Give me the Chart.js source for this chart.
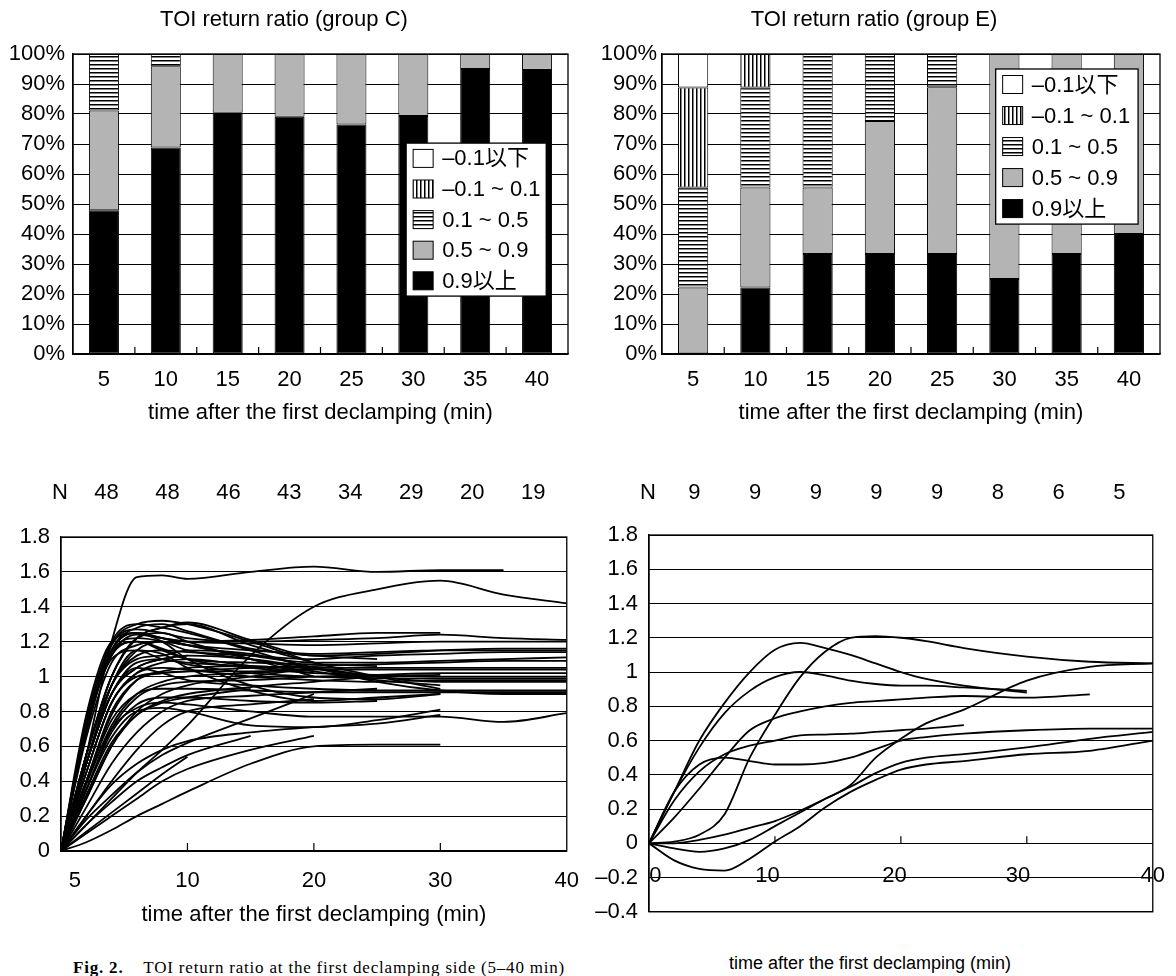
<!DOCTYPE html>
<html>
<head>
<meta charset="utf-8">
<script src="https://cdn.jsdelivr.net/npm/chart.js@4.4.1/dist/chart.umd.min.js"></script>
<style>
  html, body { margin: 0; padding: 0; background: #fff; width: 1176px; height: 976px; overflow: hidden; position: relative; }
  canvas { position: absolute; }
  .xtitle { position: absolute; font-family: 'Liberation Sans', Arial, sans-serif; font-size: 18px; line-height: 22px; white-space: nowrap; color: #000; transform: translateX(-50%); }
  #caption { position: absolute; left: 73px; top: 958px; font-family: 'Liberation Serif', 'Times New Roman', serif; font-size: 17px; line-height: 20px; letter-spacing: 0.8px; white-space: nowrap; color: #000; }
</style>
</head>
<body>
<canvas id="barC" width="588" height="440" style="left:0;top:0"></canvas>
<canvas id="barE" width="588" height="440" style="left:588px;top:0"></canvas>
<canvas id="lineC" width="588" height="480" style="left:0;top:460px"></canvas>
<canvas id="lineE" width="588" height="476" style="left:588px;top:460px"></canvas>
<div class="xtitle" style="left:870px;top:952px">time after the first declamping (min)</div>
<div id="caption"><b>Fig. 2.</b>&nbsp;&nbsp;&nbsp; TOI return ratio at the first declamping side (5–40 min)</div>
<script>
// ---- bar charts: share of patients per TOI class (%) ----
const timeLabels = ['5', '10', '15', '20', '25', '30', '35', '40'];
const classLabels = ['0.9以上', '0.5 ~ 0.9', '0.1 ~ 0.5', '–0.1 ~ 0.1', '–0.1以下'];

const groupC_over09 = [47.9, 68.8, 80.4, 79.1, 76.5, 79.3, 95.0, 94.7];
const groupC_05to09 = [33.3, 27.1, 19.6, 20.9, 23.5, 20.7, 5.0, 5.3];
const groupC_01to05 = [18.8, 4.1, 0, 0, 0, 0, 0, 0];
const groupC_m01to01 = [0, 0, 0, 0, 0, 0, 0, 0];
const groupC_underm01 = [0, 0, 0, 0, 0, 0, 0, 0];

const groupE_over09 = [0, 22.2, 33.3, 33.3, 33.3, 25.0, 33.3, 40.0];
const groupE_05to09 = [22.2, 33.3, 22.2, 44.4, 55.6, 75.0, 66.7, 60.0];
const groupE_01to05 = [33.3, 33.3, 44.5, 22.3, 11.1, 0, 0, 0];
const groupE_m01to01 = [33.3, 11.2, 0, 0, 0, 0, 0, 0];
const groupE_underm01 = [11.2, 0, 0, 0, 0, 0, 0, 0];

// ---- line charts ----
const nCountsC = [48, 48, 46, 43, 34, 29, 20, 19];
const nCountsE = [9, 9, 9, 9, 9, 8, 6, 5];

// group C curves, sampled at these minutes (a curve stops where its list stops)
const timesC = [0, 2, 4, 6, 8, 10, 15, 20, 25, 30, 35, 40];
const linesC_end40 = [
  [0, 0.15, 0.3, 0.45, 0.58, 0.72, 1.12, 1.4, 1.5, 1.55, 1.47, 1.42],
  [0, 0.75, 1.18, 1.27, 1.25, 1.22, 1.2, 1.21, 1.22, 1.24, 1.22, 1.21],
  [0, 0.7, 1.12, 1.24, 1.22, 1.2, 1.19, 1.18, 1.19, 1.2, 1.2, 1.2],
  [0, 0.55, 1.0, 1.22, 1.28, 1.31, 1.21, 1.12, 1.13, 1.15, 1.16, 1.16],
  [0, 0.65, 1.08, 1.18, 1.2, 1.18, 1.15, 1.13, 1.14, 1.15, 1.15, 1.15],
  [0, 0.5, 0.95, 1.12, 1.15, 1.14, 1.12, 1.1, 1.12, 1.13, 1.14, 1.14],
  [0, 0.7, 1.15, 1.25, 1.22, 1.18, 1.12, 1.08, 1.08, 1.09, 1.1, 1.11],
  [0, 0.45, 0.85, 1.0, 1.02, 1.03, 1.05, 1.06, 1.07, 1.08, 1.09, 1.09],
  [0, 0.68, 1.1, 1.15, 1.1, 1.08, 1.06, 1.05, 1.05, 1.05, 1.05, 1.05],
  [0, 0.4, 0.8, 0.98, 1.02, 1.03, 1.03, 1.04, 1.04, 1.04, 1.04, 1.04],
  [0, 0.35, 0.7, 0.88, 0.95, 0.97, 0.98, 1.0, 1.01, 1.02, 1.02, 1.02],
  [0, 0.72, 1.14, 1.2, 1.16, 1.1, 1.05, 1.02, 1.01, 1.0, 1.0, 1.0],
  [0, 0.5, 0.9, 1.08, 1.1, 1.07, 1.02, 1.0, 0.99, 0.99, 0.99, 0.99],
  [0, 0.45, 0.85, 1.02, 1.05, 1.04, 1.0, 0.98, 0.97, 0.98, 0.98, 0.98],
  [0, 0.75, 1.2, 1.3, 1.28, 1.25, 1.15, 1.05, 1.0, 0.97, 0.97, 0.97],
  [0, 0.5, 0.9, 1.05, 1.02, 0.98, 0.95, 0.93, 0.92, 0.92, 0.92, 0.92],
  [0, 0.4, 0.75, 0.9, 0.93, 0.93, 0.92, 0.91, 0.91, 0.91, 0.91, 0.91],
  [0, 0.55, 0.95, 1.1, 1.12, 1.15, 1.13, 1.05, 0.97, 0.92, 0.9, 0.9],
  [0, 0.4, 0.7, 0.82, 0.85, 0.84, 0.8, 0.77, 0.77, 0.77, 0.74, 0.79]
];
const linesC_end35 = [
  [0, 0.55, 1.2, 1.57, 1.58, 1.56, 1.6, 1.63, 1.6, 1.61, 1.61]
];
const linesC_end30 = [
  [0, 0.05, 0.12, 0.2, 0.27, 0.34, 0.5, 0.6, 0.61, 0.61],
  [0, 0.2, 0.38, 0.5, 0.58, 0.63, 0.68, 0.71, 0.73, 0.78],
  [0, 0.35, 0.65, 0.8, 0.82, 0.8, 0.72, 0.71, 0.75, 0.81],
  [0, 0.72, 1.15, 1.25, 1.2, 1.1, 0.95, 0.88, 0.87, 0.9],
  [0, 0.5, 0.95, 1.15, 1.13, 1.05, 0.92, 0.86, 0.88, 0.9],
  [0, 0.55, 1.0, 1.22, 1.28, 1.3, 1.18, 1.08, 1.0, 0.93],
  [0, 0.78, 1.2, 1.25, 1.22, 1.2, 1.21, 1.23, 1.25, 1.25],
  [0, 0.4, 0.78, 0.98, 1.03, 1.05, 1.06, 1.03, 0.98, 0.95],
  [0, 0.3, 0.6, 0.78, 0.86, 0.9, 0.94, 0.97, 1.0, 1.01]
];
const linesC_end25 = [
  [0, 0.7, 1.12, 1.2, 1.15, 1.1, 1.08, 1.07, 1.06],
  [0, 0.5, 0.9, 1.05, 1.1, 1.12, 1.1, 1.05, 1.0],
  [0, 0.25, 0.5, 0.68, 0.8, 0.86, 0.89, 0.91, 0.93],
  [0, 0.68, 1.15, 1.28, 1.3, 1.26, 1.16, 1.12, 1.1],
  [0, 0.35, 0.68, 0.84, 0.88, 0.88, 0.86, 0.85, 0.86]
];
const linesC_end20 = [
  [0, 0.1, 0.2, 0.3, 0.4, 0.47, 0.58, 0.66],
  [0, 0.55, 1.0, 1.22, 1.25, 1.2, 1.1, 1.04],
  [0, 0.5, 0.95, 1.15, 1.2, 1.18, 1.1, 1.0],
  [0, 0.45, 0.85, 1.02, 1.08, 1.1, 1.06, 1.02],
  [0, 0.2, 0.4, 0.58, 0.72, 0.8, 0.84, 0.87],
  [0, 0.3, 0.6, 0.8, 0.9, 0.95, 1.0, 1.05],
  [0, 0.7, 1.18, 1.3, 1.32, 1.3, 1.2, 1.08],
  [0, 0.38, 0.72, 0.9, 0.97, 1.0, 1.02, 1.04],
  [0, 0.18, 0.32, 0.45, 0.55, 0.62, 0.76, 0.9]
];
const linesC_end15 = [
  [0, 0.72, 1.14, 1.22, 1.2, 1.15, 1.1],
  [0, 0.32, 0.62, 0.78, 0.85, 0.88, 0.93],
  [0, 0.15, 0.28, 0.4, 0.48, 0.55, 0.66]
];
const linesC_end10 = [
  [0, 0.11, 0.22, 0.33, 0.44, 0.54],
  [0, 0.5, 0.9, 1.05, 1.1, 1.12]
];

// group E curves
const timesE = [0, 2, 4, 6, 8, 10, 12, 14, 16, 18, 20, 22, 25, 30, 35, 40];
const linesE = [
  [0, 0.3, 0.6, 0.82, 1.0, 1.13, 1.17, 1.14, 1.1, 1.05, 1.0, 0.96, 0.92, 0.88],
  [0, 0.3, 0.56, 0.76, 0.89, 0.97, 1.0, 0.98, 0.95, 0.93, 0.92, 0.92, 0.91, 0.89],
  [0, 0.01, 0.05, 0.17, 0.5, 0.75, 0.97, 1.12, 1.2, 1.21, 1.2, 1.18, 1.14, 1.09, 1.06, 1.05],
  [0, 0.15, 0.32, 0.5, 0.66, 0.73, 0.77, 0.8, 0.82, 0.83, 0.84, 0.85, 0.86, 0.85, 0.87],
  [0, 0.3, 0.46, 0.5, 0.48, 0.46, 0.46, 0.47, 0.5, 0.55, 0.6, 0.62, 0.64, 0.66, 0.67, 0.67],
  [0, 0.25, 0.42, 0.52, 0.57, 0.6, 0.63, 0.635, 0.64, 0.65, 0.66, 0.67, 0.69],
  [0, 0, 0.02, 0.05, 0.09, 0.13, 0.19, 0.26, 0.33, 0.41, 0.47, 0.5, 0.52, 0.56, 0.61, 0.65],
  [0, -0.1, -0.15, -0.16, -0.09, 0.01, 0.1, 0.21, 0.3, 0.37, 0.43, 0.46, 0.48, 0.52, 0.54, 0.6],
  [0, -0.03, -0.05, -0.03, 0.02, 0.1, 0.18, 0.26, 0.34, 0.5, 0.61, 0.7, 0.78, 0.95, 1.03, 1.05]
];

const xTitle = 'time after the first declamping (min)';
const xTickPosC = [1.1, 10, 20, 30, 40];
const xTickTextC = ['5', '10', '20', '30', '40'];
const xTickPosE = [0.5, 9.4, 19.5, 29.3, 40];
const xTickTextE = ['0', '10', '20', '30', '40'];

const FONT = "'Liberation Sans', 'Noto Sans CJK JP', Arial, sans-serif";
Chart.defaults.font.family = FONT;
Chart.defaults.font.size = 22;
Chart.defaults.color = '#000';
Chart.defaults.animation = false;
Chart.defaults.plugins.legend.display = false;
Chart.defaults.plugins.tooltip.enabled = false;

function stripes(dir) {
  const c = document.createElement('canvas');
  c.width = 4; c.height = 4;
  const g = c.getContext('2d');
  g.fillStyle = '#fff';
  g.fillRect(0, 0, 4, 4);
  g.fillStyle = '#000';
  if (dir === 'h') g.fillRect(0, 0, 4, 1.5); else g.fillRect(0, 0, 1.5, 4);
  return g.createPattern(c, 'repeat');
}
const classFills = ['#000', '#b4b4b4', stripes('h'), stripes('v'), '#fff'];

// box round the plot + short inner tick marks on the x axis
function makeFrame(marks, tickLen, base) {
  return {
    id: 'frame',
    afterDatasetsDraw(chart) {
      const { ctx, chartArea: a, scales } = chart;
      const xs = scales.x;
      ctx.save();
      ctx.strokeStyle = '#000';
      ctx.lineWidth = 1.3;
      ctx.strokeRect(a.left, a.top, a.right - a.left, a.bottom - a.top);
      let px = [];
      if (marks === 'between') {
        for (let i = 0; i < xs.ticks.length - 1; i++) px.push((xs.getPixelForTick(i) + xs.getPixelForTick(i + 1)) / 2);
      } else {
        px = marks.map(v => xs.getPixelForValue(v));
      }
      const y0 = base == null ? a.bottom : scales.y.getPixelForValue(base);
      ctx.lineWidth = 1.2;
      ctx.beginPath();
      px.forEach(p => { ctx.moveTo(p, y0); ctx.lineTo(p, y0 - tickLen); });
      ctx.stroke();
      ctx.restore();
    }
  };
}

function makeLegend(x0, x1, yTop, yBottom) {
  return {
    id: 'boxLegend',
    afterDraw(chart) {
      const { ctx, chartArea: a, scales: { y } } = chart;
      const w = a.right - a.left;
      const left = a.left + x0 * w, right = a.left + x1 * w;
      const top = y.getPixelForValue(yTop), bottom = y.getPixelForValue(yBottom);
      ctx.save();
      ctx.fillStyle = '#fff';
      ctx.fillRect(left, top, right - left, bottom - top);
      ctx.strokeStyle = '#000';
      ctx.lineWidth = 1.3;
      ctx.strokeRect(left, top, right - left, bottom - top);
      const items = chart.data.datasets.slice().reverse();
      const rowH = (bottom - top) / items.length;
      ctx.font = '22px ' + FONT;
      ctx.textBaseline = 'middle';
      items.forEach((ds, i) => {
        const cy = top + rowH * (i + 0.5);
        ctx.fillStyle = ds.backgroundColor;
        ctx.fillRect(left + 7, cy - 9, 20, 18);
        ctx.lineWidth = 1;
        ctx.strokeRect(left + 7, cy - 9, 20, 18);
        ctx.fillStyle = '#000';
        ctx.fillText(ds.label, left + 36, cy + 1);
      });
      ctx.restore();
    }
  };
}

function makeNRow(counts, y) {
  return {
    id: 'nRow',
    afterDraw(chart) {
      const { ctx, chartArea: a } = chart;
      const w = a.right - a.left;
      ctx.save();
      ctx.font = '22px ' + FONT;
      ctx.fillStyle = '#000';
      ctx.textAlign = 'center';
      ctx.textBaseline = 'middle';
      ctx.fillText('N', a.left - 1, y);
      counts.forEach((n, i) => ctx.fillText(String(n), a.left + (0.09 + 0.1205 * i) * w, y));
      ctx.restore();
    }
  };
}

function barChart(id, title, series, legend, yWidth, labelPad, rightPad) {
  new Chart(document.getElementById(id), {
    type: 'bar',
    data: {
      labels: timeLabels,
      datasets: series.map((vals, i) => ({
        label: classLabels[i],
        data: vals.map(v => v || null),
        backgroundColor: classFills[i],
        borderColor: '#000',
        borderWidth: 1,
        borderSkipped: false,
        barPercentage: 0.485,
        categoryPercentage: 1
      }))
    },
    options: {
      responsive: false,
      layout: { padding: { right: rightPad } },
      plugins: {
        title: { display: true, text: title, font: { size: 22, weight: 'normal' }, padding: { top: 7, bottom: 20.6 } }
      },
      scales: {
        x: {
          stacked: true,
          grid: { display: false },
          border: { color: '#000', width: 1.3 },
          ticks: { padding: 5 },
          title: { display: true, text: xTitle, font: { size: 22 }, padding: { top: 0, bottom: 13.5 } },
          afterFit: s => { s.height = 86; }
        },
        y: {
          stacked: true, min: 0, max: 100,
          ticks: { stepSize: 10, padding: labelPad, callback: v => v + '%' },
          grid: { color: '#000', lineWidth: 1, drawTicks: false },
          border: { color: '#000', width: 1.3 },
          afterFit: s => { s.width = yWidth; }
        }
      }
    },
    plugins: [makeFrame('between', 7), legend]
  });
}

barChart('barC', 'TOI return ratio (group C)',
  [groupC_over09, groupC_05to09, groupC_01to05, groupC_m01to01, groupC_underm01],
  makeLegend(0.673, 0.956, 70.3, 19.3), 73, 8, 20);
barChart('barE', 'TOI return ratio (group E)',
  [groupE_over09, groupE_05to09, groupE_01to05, groupE_m01to01, groupE_underm01],
  makeLegend(0.67, 0.956, 95, 43.3), 74, 5, 16);

function curveSets(times, groups) {
  const out = [];
  groups.forEach(g => g.forEach(vals => out.push({
    data: vals.map((v, i) => ({ x: times[i], y: v })),
    borderColor: '#000',
    borderWidth: 1.8,
    pointRadius: 0,
    fill: false,
    cubicInterpolationMode: 'monotone'
  })));
  return out;
}

const yLabel = v => String(Math.round(v * 10) / 10).replace('-', '–');

// group C line chart
new Chart(document.getElementById('lineC'), {
  type: 'line',
  data: { datasets: curveSets(timesC, [linesC_end40, linesC_end35, linesC_end30, linesC_end25, linesC_end20, linesC_end15, linesC_end10]) },
  options: {
    responsive: false,
    layout: { padding: { top: 77, right: 20 } },
    scales: {
      x: {
        type: 'linear', min: 0, max: 40,
        afterBuildTicks: s => { s.ticks = xTickPosC.map(v => ({ value: v })); },
        ticks: { autoSkip: false, maxRotation: 0, padding: 9, callback: (v, i) => xTickTextC[i] },
        grid: { display: false },
        border: { color: '#000', width: 1.3 },
        title: { display: true, text: xTitle, font: { size: 22 }, padding: { top: 0, bottom: 11.8 } },
        afterFit: s => { s.height = 89; }
      },
      y: {
        min: 0, max: 1.8,
        ticks: { stepSize: 0.2, padding: 11, callback: yLabel },
        grid: { color: '#000', lineWidth: 1, drawTicks: false },
        border: { color: '#000', width: 1.3 },
        afterFit: s => { s.width = 61; }
      }
    }
  },
  plugins: [makeFrame([10, 20, 30], 8), makeNRow(nCountsC, 33)]
});

// group E line chart
new Chart(document.getElementById('lineE'), {
  type: 'line',
  data: { datasets: curveSets(timesE, [linesE]) },
  options: {
    responsive: false,
    layout: { padding: { top: 75, right: 20, bottom: 18 } },
    scales: {
      x: {
        type: 'linear', min: 0, max: 40,
        position: { y: 0 },
        afterBuildTicks: s => { s.ticks = xTickPosE.map(v => ({ value: v })); },
        ticks: { autoSkip: false, maxRotation: 0, padding: 11, callback: (v, i) => xTickTextE[i] },
        grid: { display: false },
        border: { display: false }
      },
      y: {
        min: -0.4, max: 1.8,
        ticks: { stepSize: 0.2, padding: 11, callback: yLabel },
        grid: { color: '#000', lineWidth: 1, drawTicks: false },
        border: { color: '#000', width: 1.3 },
        afterFit: s => { s.width = 61; }
      }
    }
  },
  plugins: [makeFrame([10, 20, 30], 7, 0), makeNRow(nCountsE, 33)]
});
</script>
</body>
</html>
